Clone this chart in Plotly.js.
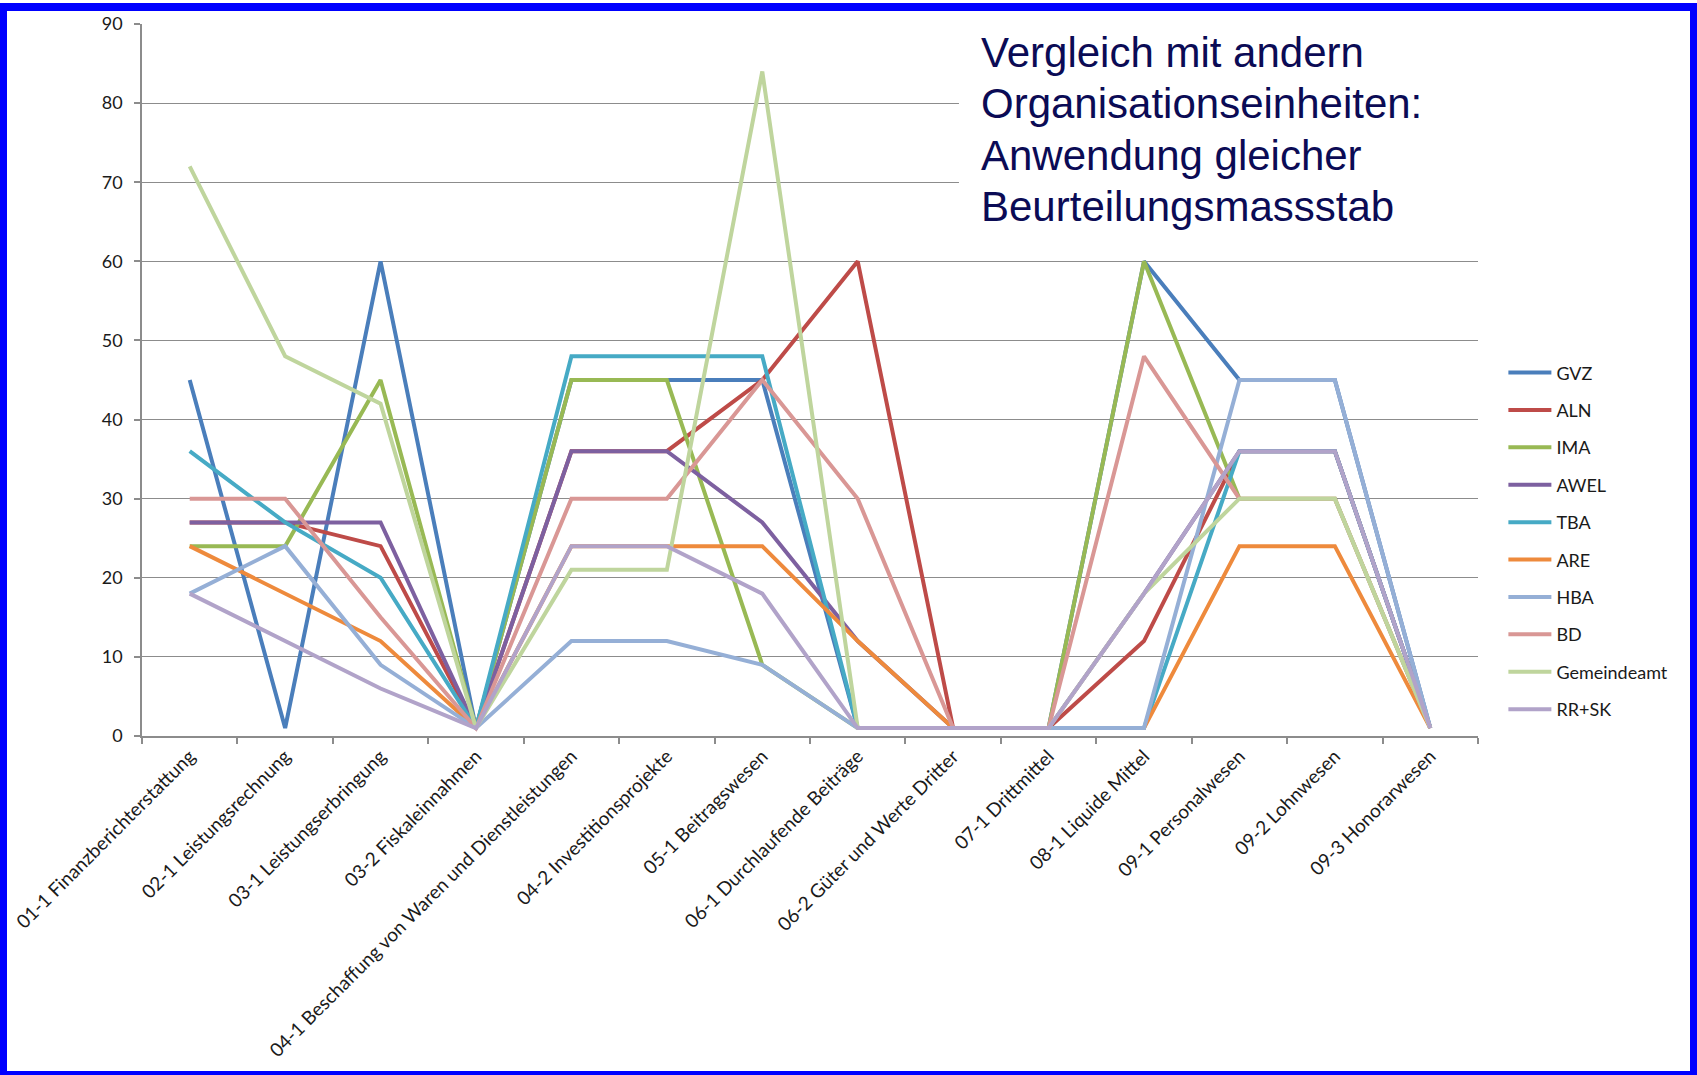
<!DOCTYPE html>
<html>
<head>
<meta charset="utf-8">
<script src="https://cdn.plot.ly/plotly-3.0.1.min.js"></script>
<style>
  html, body { margin: 0; padding: 0; background: #ffffff; }
  #chart { position: absolute; left: 0; top: 0; width: 1697px; height: 1075px; }
  #frame { position: absolute; left: 0; top: 3px; width: 1697px; height: 1072px; box-sizing: border-box;
           border-top: 8px solid #0000ff; border-left: 7px solid #0000ff; border-right: 7px solid #0000ff;
           border-bottom: 4px solid #0000ff; pointer-events: none; }
</style>
</head>
<body>
<div id="chart"></div>
<div id="frame"></div>
<script>
const categories = [
  "01-1 Finanzberichterstattung",
  "02-1 Leistungsrechnung",
  "03-1 Leistungserbringung",
  "03-2 Fiskaleinnahmen",
  "04-1 Beschaffung von Waren und Dienstleistungen",
  "04-2 Investitionsprojekte",
  "05-1 Beitragswesen",
  "06-1 Durchlaufende Beiträge",
  "06-2 Güter und Werte Dritter",
  "07-1 Drittmittel",
  "08-1 Liquide Mittel",
  "09-1 Personalwesen",
  "09-2 Lohnwesen",
  "09-3 Honorarwesen"
];

const seriesNames = ["GVZ", "ALN", "IMA", "AWEL", "TBA", "ARE", "HBA", "BD", "Gemeindeamt", "RR+SK"];

const GVZ         = [45,  1, 60, 1, 45, 45, 45,  1, 1, 1, 60, 45, 45, 1];
const ALN         = [27, 27, 24, 1, 36, 36, 45, 60, 1, 1, 12, 36, 36, 1];
const IMA         = [24, 24, 45, 1, 45, 45,  9,  1, 1, 1, 60, 30, 30, 1];
const AWEL        = [27, 27, 27, 1, 36, 36, 27, 12, 1, 1, 18, 36, 36, 1];
const TBA         = [36, 27, 20, 1, 48, 48, 48,  1, 1, 1,  1, 36, 36, 1];
const ARE         = [24, 18, 12, 1, 24, 24, 24, 12, 1, 1,  1, 24, 24, 1];
const HBA         = [18, 24,  9, 1, 12, 12,  9,  1, 1, 1,  1, 45, 45, 1];
const BD          = [30, 30, 15, 1, 30, 30, 45, 30, 1, 1, 48, 30, 30, 1];
const Gemeindeamt = [72, 48, 42, 1, 21, 21, 84,  1, 1, 1, 18, 30, 30, 1];
const RRSK        = [18, 12,  6, 1, 24, 24, 18,  1, 1, 1, 18, 36, 36, 1];

const seriesValues = [GVZ, ALN, IMA, AWEL, TBA, ARE, HBA, BD, Gemeindeamt, RRSK];
const seriesColors = ["#4A7EBB", "#BE4B48", "#98B954", "#7D60A0", "#46AAC5",
                      "#EE8A3C", "#95AFD6", "#D99795", "#BFD59D", "#B1A3C9"];

const titleLines = ["Vergleich mit andern", "Organisationseinheiten:", "Anwendung gleicher", "Beurteilungsmassstab"];

const FONT = "Lato, 'Noto Sans', sans-serif";
const gridCol = "#8c8c8c";

const traces = seriesNames.map((name, i) => ({
  type: "scatter",
  mode: "lines",
  name: name,
  legendgroup: "g" + i,
  x: categories,
  y: seriesValues[i],
  line: { color: seriesColors[i], width: 4 },
  hoverinfo: "x+y+name"
}));

const titleY = [0.960, 0.888, 0.815, 0.744];
const annotations = titleLines.map((t, i) => ({
  xref: "paper", yref: "paper",
  x: 0.6265, y: titleY[i],
  xanchor: "left", yanchor: "middle",
  text: t, showarrow: false,
  font: { family: "'Liberation Sans', Arial, sans-serif", size: 42, color: "#0b0b55" }
}));

const layout = {
  width: 1697, height: 1075,
  paper_bgcolor: "#ffffff", plot_bgcolor: "#ffffff",
  margin: { l: 142, r: 219, t: 24, b: 339, autoexpand: false },
  font: { family: FONT, size: 19, color: "#1a1a1a" },
  showlegend: true,
  legend: {
    x: 1.019, xanchor: "left", y: 0.536, yanchor: "top",
    traceorder: "grouped", tracegroupgap: 11,
    itemwidth: 43,
    font: { family: FONT, size: 18, color: "#1a1a1a" },
    bgcolor: "rgba(0,0,0,0)"
  },
  xaxis: {
    type: "category",
    range: [-0.5, 13.5],
    showline: true, linecolor: gridCol, linewidth: 1.5,
    showgrid: false, zeroline: false,
    ticks: "outside", tickson: "boundaries", ticklen: 6, tickcolor: gridCol, tickwidth: 1.5,
    tickangle: -45,
    tickfont: { family: FONT, size: 19, color: "#1a1a1a" },
    automargin: false
  },
  yaxis: {
    range: [0, 90], dtick: 10,
    showline: true, linecolor: gridCol, linewidth: 1.5,
    showgrid: true, gridcolor: gridCol, gridwidth: 1.2,
    zeroline: false,
    ticks: "outside", ticklen: 6, tickcolor: gridCol, tickwidth: 1.5,
    ticklabelstandoff: 8,
    tickfont: { family: FONT, size: 18, color: "#1a1a1a" },
    automargin: false
  },
  shapes: [{
    type: "rect", xref: "paper", yref: "paper",
    x0: 0.6115, x1: 1.02, y0: 0.695, y1: 1.03,
    fillcolor: "#ffffff", line: { width: 0 }, layer: "above"
  }],
  annotations: annotations
};

Plotly.newPlot("chart", traces, layout, { displayModeBar: false, responsive: false });
</script>
</body>
</html>
